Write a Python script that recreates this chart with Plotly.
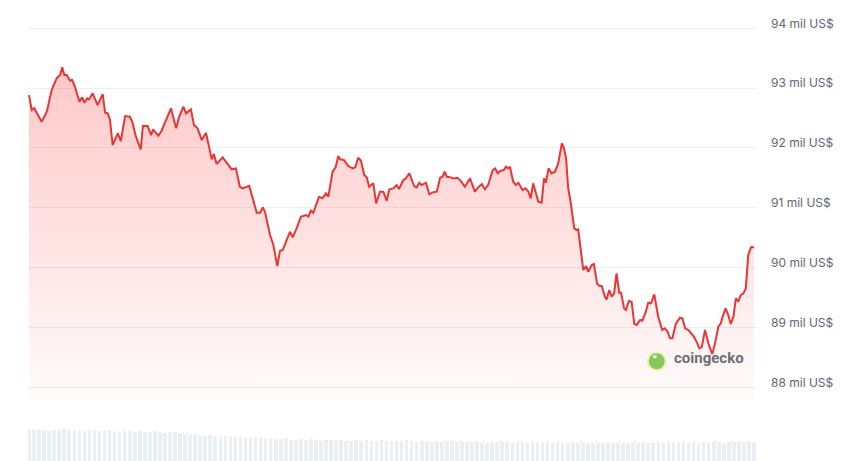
import plotly.graph_objects as go

# BTC price over the last 24 h (hours since start, USD)
hours = [
    0.00, 0.09, 0.17, 0.42, 0.59, 0.75, 0.92, 1.03, 1.10, 1.17, 1.25, 1.36, 1.43, 1.52, 1.67, 1.76,
    1.83, 1.93, 1.99, 2.11, 2.27, 2.44, 2.52, 2.61, 2.68, 2.77, 2.94, 3.04, 3.18, 3.34, 3.42, 3.54,
    3.70, 3.77, 3.93, 4.04, 4.11, 4.28, 4.39, 4.54, 4.70, 4.87, 4.97, 5.11, 5.20, 5.36, 5.46, 5.58,
    5.72, 5.86, 6.05, 6.12, 6.21, 6.41, 6.71, 6.85, 6.98, 7.07, 7.29, 7.54, 7.65, 7.74, 7.81, 7.98,
    8.09, 8.22, 8.31, 8.40, 8.64, 8.73, 8.86, 9.00, 9.17, 9.25, 9.33, 9.41, 9.60, 9.72, 9.83, 9.91,
    10.05, 10.15, 10.24, 10.30, 10.43, 10.57, 10.72, 10.80, 10.90, 10.99, 11.10, 11.18, 11.26, 11.40,
    11.49, 11.62, 11.73, 11.84, 11.93, 12.06, 12.17, 12.25, 12.39, 12.48, 12.59, 12.75, 12.83, 12.92,
    13.00, 13.14, 13.25, 13.36, 13.50, 13.61, 13.69, 13.76, 13.83, 13.97, 14.05, 14.18, 14.30, 14.43,
    14.60, 14.76, 14.87, 14.99, 15.09, 15.20, 15.35, 15.43, 15.52, 15.61, 15.72, 15.79, 15.87, 15.92,
    16.03, 16.12, 16.20, 16.34, 16.44, 16.53, 16.61, 16.69, 16.81, 16.86, 16.97, 17.05, 17.11, 17.20,
    17.30, 17.41, 17.52, 17.64, 17.71, 17.78, 17.85, 17.93, 18.05, 18.13, 18.18, 18.35, 18.44, 18.51,
    18.63, 18.70, 18.81, 18.90, 18.96, 19.07, 19.12, 19.21, 19.29, 19.37, 19.45, 19.54, 19.60, 19.70,
    19.76, 19.86, 19.95, 20.04, 20.12, 20.23, 20.30, 20.41, 20.50, 20.59, 20.70, 20.83, 20.96, 21.05,
    21.14, 21.22, 21.30, 21.41, 21.55, 21.63, 21.72, 21.83, 21.99, 22.10, 22.19, 22.27, 22.38, 22.49,
    22.62, 22.71, 22.82, 22.90, 22.98, 23.06, 23.15, 23.23, 23.32, 23.40, 23.48, 23.56, 23.65, 23.73,
    23.81, 23.90, 24.00,
]
price = [
    92884, 92634, 92667, 92438, 92605, 92968, 93168, 93219, 93347, 93219, 93219, 93123, 93135, 93023, 92772, 92846,
    92756, 92829, 92812, 92913, 92717, 92901, 92589, 92579, 92478, 92049, 92244, 92116, 92533, 92522, 92438, 92188,
    91977, 92366, 92366, 92216, 92311, 92204, 92288, 92467, 92662, 92328, 92522, 92689, 92579, 92645, 92383, 92328,
    92132, 92254, 91810, 91900, 91731, 91843, 91643, 91659, 91352, 91325, 91369, 90918, 90918, 91008, 90934, 90545,
    90378, 90027, 90283, 90294, 90600, 90507, 90657, 90851, 90879, 90851, 90951, 90918, 91185, 91158, 91242, 91185,
    91603, 91676, 91865, 91810, 91798, 91698, 91659, 91676, 91837, 91786, 91548, 91509, 91352, 91409,
    91075, 91269, 91269, 91118, 91309, 91325, 91380, 91314, 91464, 91492, 91576, 91364, 91342, 91419,
    91380, 91419, 91225, 91258, 91269, 91502, 91519, 91603, 91519, 91509, 91492, 91502, 91447, 91352,
    91492, 91269, 91342, 91397, 91309, 91380, 91631, 91659, 91576, 91619, 91631, 91686, 91659, 91686,
    91436, 91380, 91419, 91297, 91325, 91269, 91158, 91409, 91213, 91101, 91085, 91492, 91419, 91659,
    91576, 91603, 91743, 92077, 91994, 91827, 91325, 91101, 90657, 90628, 90640, 89960, 90027, 89932,
    90044, 90060, 89726, 89693, 89693, 89504, 89470, 89626, 89514, 89571, 89905, 89581, 89581, 89320,
    89292, 89442, 89430, 89058, 89041, 89125, 89113, 89247, 89414, 89404, 89554, 89180, 88957, 88986,
    88929, 88819, 88819, 89058, 89163, 89153, 88986, 88957, 88862, 88762, 88652, 88668, 88957, 88735,
    88556, 88735, 89013, 89069, 89208, 89320, 89208, 89058, 89180, 89487, 89430, 89542, 89571, 89654,
    90211, 90339, 90339,
]

# trading volume, 10-minute buckets (relative)
vol_hours = [i / 6 for i in range(145)]
volume = [
    95, 93, 96, 94, 92, 95, 93, 96, 94, 91, 94, 92, 95, 93, 90, 92, 94, 91, 89, 92,
    90, 88, 91, 89, 87, 90, 88, 86, 89, 87,
    84, 82, 80, 83, 79, 77, 80, 76, 74, 77, 73, 72, 75, 71, 70, 73, 69, 68, 71, 67,
    66, 69, 65, 64, 67,
    63, 66, 64, 62, 65, 63, 61, 64, 62, 60, 63, 61, 64, 62, 60, 63, 61, 59, 62, 60,
    63, 61, 59, 62, 60, 58, 61, 59, 62, 60,
    58, 61, 59, 57, 60, 58, 56, 59, 57, 60, 58, 56, 59, 57, 55, 58, 56, 59, 57, 55,
    58, 56, 54, 57, 55, 58, 56, 54, 57, 55,
    57, 55, 58, 56, 54, 57, 55, 58, 56, 54, 57, 55, 58, 56, 59, 57, 55, 58, 56, 59,
    57, 60, 58, 56, 59, 57, 60, 58, 61, 59,
]

tick_vals = [88000, 89000, 90000, 91000, 92000, 93000, 94000]
tick_text = ["88 mil US$", "89 mil US$", "90 mil US$", "91 mil US$",
             "92 mil US$", "93 mil US$", "94 mil US$"]

RED = "#ea3535"

fig = go.Figure()

fig.add_trace(go.Bar(
    x=vol_hours, y=volume, xaxis="x2", yaxis="y2",
    marker=dict(color="#e9eff3", line=dict(width=0)),
    width=0.12, hoverinfo="skip",
))

fig.add_trace(go.Scatter(
    x=hours, y=price, mode="lines",
    line=dict(color=RED, width=2),
    fill="tozeroy",
    fillgradient=dict(
        type="vertical",
        colorscale=[[0, "rgba(255,90,90,0.03)"], [1, "rgba(255,80,80,0.32)"]],
        start=87900, stop=93400,
    ),
    hoverinfo="skip",
))

fig.update_layout(
    width=850, height=461,
    margin=dict(l=28, r=93, t=0, b=0),
    paper_bgcolor="white", plot_bgcolor="white",
    showlegend=False,
    font=dict(family="Inter, Noto Sans, sans-serif", size=12, color="#5f6673"),
    bargap=0,
    xaxis=dict(range=[-0.033, 24.1], visible=False, anchor="y"),
    xaxis2=dict(range=[-0.033, 24.1], visible=False, anchor="y2", matches="x"),
    yaxis=dict(
        domain=[0.1323, 1], range=[87788, 94473], side="right",
        tickvals=tick_vals, ticktext=tick_text,
        showgrid=True, gridcolor="#efefef", gridwidth=1,
        zeroline=False, showline=False, ticks="",
        ticklabelstandoff=13, ticklabelshift=-5,
    ),
    yaxis2=dict(domain=[0, 0.072], range=[0, 100], visible=False),
)

# coingecko watermark
fig.add_shape(type="circle", xref="x", yref="y",
              x0=20.45, x1=21.11, y0=88270, y1=88600,
              fillcolor="#eef0b4", line=dict(width=0), layer="above")
fig.add_shape(type="circle", xref="x", yref="y",
              x0=20.52, x1=21.04, y0=88300, y1=88570,
              fillcolor="#86c95a", line=dict(width=0), layer="above")
fig.add_shape(type="circle", xref="x", yref="y",
              x0=20.66, x1=20.78, y0=88480, y1=88540,
              fillcolor="white", line=dict(width=0), layer="above")
fig.add_annotation(x=22.51, y=88490, xref="x", yref="y", text="<b>coingecko</b>",
                   showarrow=False, font=dict(size=15, color="#6b6f76",
                                              family="Roboto, Noto Sans, sans-serif"))

fig.write_html("out.html", config={"displayModeBar": False},
               post_script="document.body.style.margin='0';")
